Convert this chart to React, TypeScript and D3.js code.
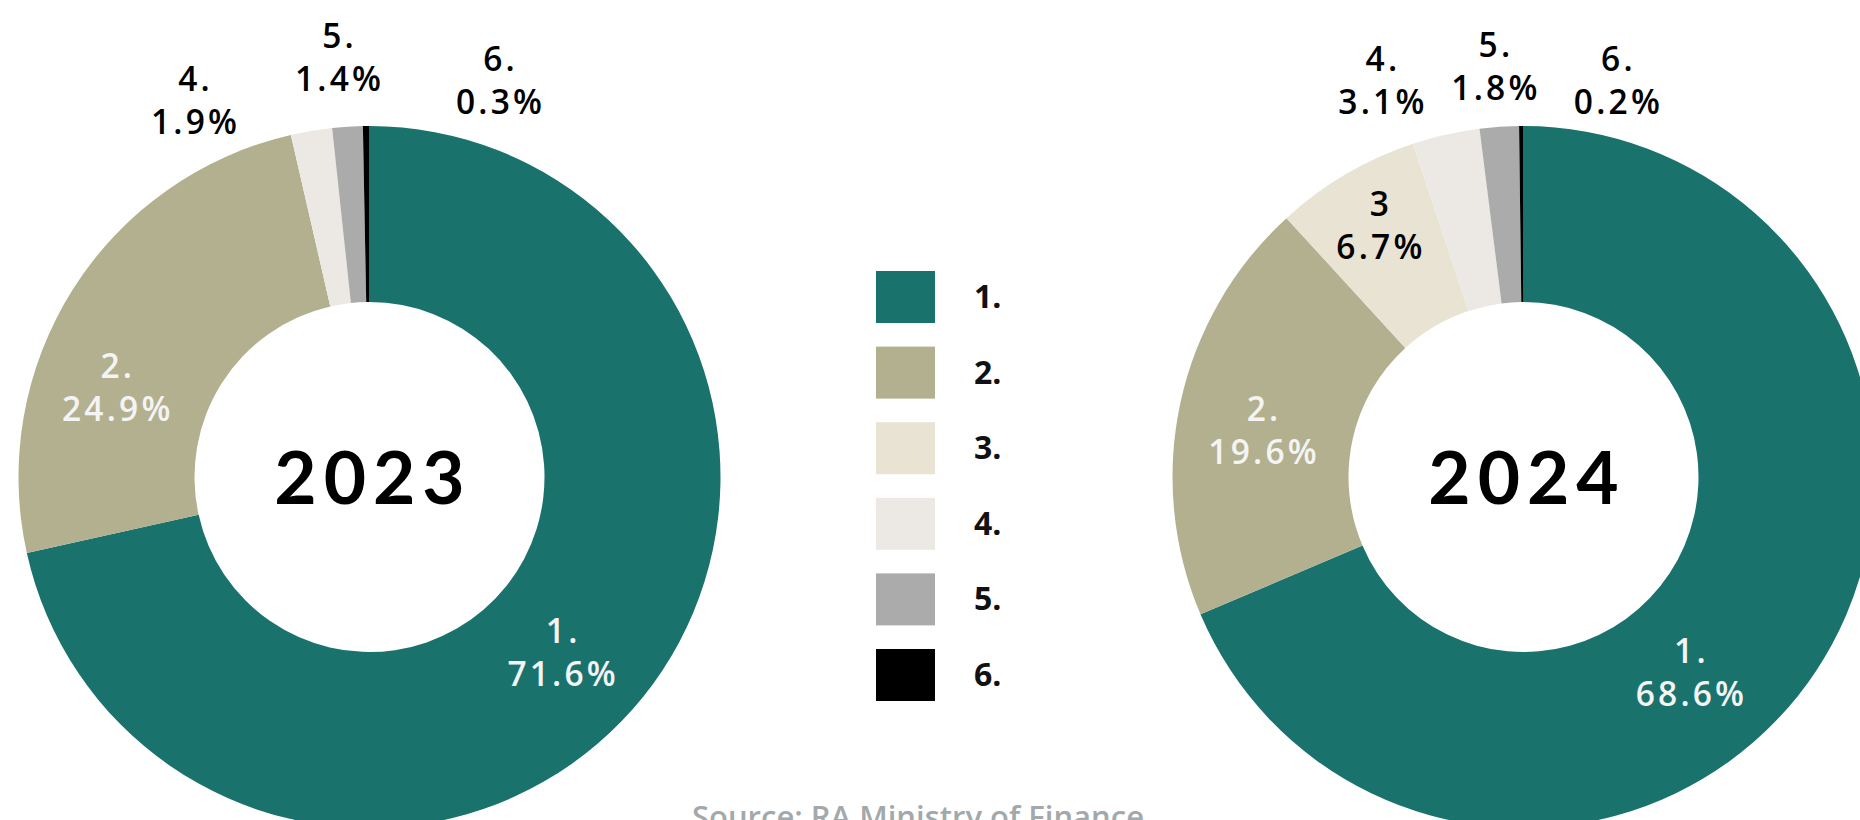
import React from 'react';
import * as d3 from 'd3';

// ---- data ----
const categories = ['1.', '2.', '3.', '4.', '5.', '6.'];
const years = ['2023', '2024'];
const values2023 = [71.6, 24.9, 0, 1.9, 1.4, 0.3];
const values2024 = [68.6, 19.6, 6.7, 3.1, 1.8, 0.2];
const labelNames2023 = ['1.', '2.', '', '4.', '5.', '6.'];
const labelNames2024 = ['1.', '2.', '3', '4.', '5.', '6.'];
const sourceText = 'Source: RA Ministry of Finance';

// ---- style / layout ----
const W = 1860;
const H = 820;
const colors = ['#1a726d', '#b2b08f', '#e8e3d3', '#ece9e4', '#ababab', '#000000'];
const outerR = 351;
const innerR = 175;
const cy = 477;
const xCenter = d3.scaleOrdinal<string, number>().domain(years).range([369.5, 1523.5]);
// label nudges from the slice centroid (layout only)
const nudges2023: [number, number][] = [[-13, 11], [-31, 51], [0, 0], [-132, -117], [-15, -157], [132, -134]];
const nudges2024: [number, number][] = [[-53, 50], [-4, 9], [-11, -25], [-84, -140], [-11, -148], [95, -134]];
const labelFill2023 = ['#f4f4f4', '#f4f4f4', '#000', '#000', '#000', '#000'];
const labelFill2024 = ['#f4f4f4', '#f4f4f4', '#000', '#000', '#000', '#000'];

const series = [
  { year: years[0], values: values2023, names: labelNames2023, nudges: nudges2023, fills: labelFill2023 },
  { year: years[1], values: values2024, names: labelNames2024, nudges: nudges2024, fills: labelFill2024 },
];

const pie = d3.pie<number>().sort(null).value((d) => d).startAngle(0).endAngle(2 * Math.PI);
const arc = d3.arc<d3.PieArcDatum<number>>().innerRadius(innerR).outerRadius(outerR);

const legendY = d3.scaleBand<string>().domain(categories).range([271, 701]).paddingInner(0.312).paddingOuter(0);

const labelFont = '"Open Sans", Lato, sans-serif';
const labelSize = 33.5;
const labelSpacing = 3.2;
const lineGap = 43;

export default function App() {
  return (
    <svg
      width={W}
      height={H}
      viewBox={`0 0 ${W} ${H}`}
      style={{ position: 'absolute', left: 0, top: 0, background: '#fff' }}
    >
      <rect x={0} y={0} width={W} height={H} fill="#fff" />
      {series.map((s) => {
        const cx = xCenter(s.year);
        const arcs = pie(s.values);
        return (
          <g key={s.year} transform={`translate(${cx},${cy})`}>
            {arcs.map((a, i) => (
              <path key={i} d={arc(a) || ''} fill={colors[i]} />
            ))}
            {arcs.map((a, i) => {
              if (!s.names[i] || a.data === 0) return null;
              const [x0, y0] = arc.centroid(a);
              const x = x0 + s.nudges[i][0] + labelSpacing / 2;
              const y = y0 + s.nudges[i][1];
              return (
                <text
                  key={'l' + i}
                  x={x}
                  textAnchor="middle"
                  fontFamily={labelFont}
                  fontSize={labelSize}
                  fontWeight={600}
                  letterSpacing={labelSpacing}
                  fill={s.fills[i]}
                >
                  <tspan x={x} y={y - lineGap / 2 + 12}>{s.names[i]}</tspan>
                  <tspan x={x} y={y + lineGap / 2 + 12}>{`${d3.format('.1f')(a.data)}%`}</tspan>
                </text>
              );
            })}
            <text
              x={3.5}
              y={27}
              textAnchor="middle"
              fontFamily="Lato, sans-serif"
              fontSize={73}
              fontWeight={700}
              letterSpacing={7}
              fill="#000"
            >
              {s.year}
            </text>
          </g>
        );
      })}
      <g>
        {categories.map((c, i) => {
          const y = legendY(c) as number;
          const h = legendY.bandwidth();
          return (
            <g key={c}>
              <rect x={876} y={y} width={59} height={h} fill={colors[i]} />
              <text
                x={974}
                y={y + h / 2 + 11}
                fontFamily='"Open Sans", sans-serif'
                fontWeight={700}
                fontSize={32}
                fill="#111"
              >
                {c}
              </text>
            </g>
          );
        })}
      </g>
      <text
        x={918}
        y={828}
        textAnchor="middle"
        fontFamily='"Open Sans", "Noto Sans", sans-serif'
        fontWeight={600}
        fontSize={31}
        fill="#a3a9ab"
      >
        {sourceText}
      </text>
    </svg>
  );
}
